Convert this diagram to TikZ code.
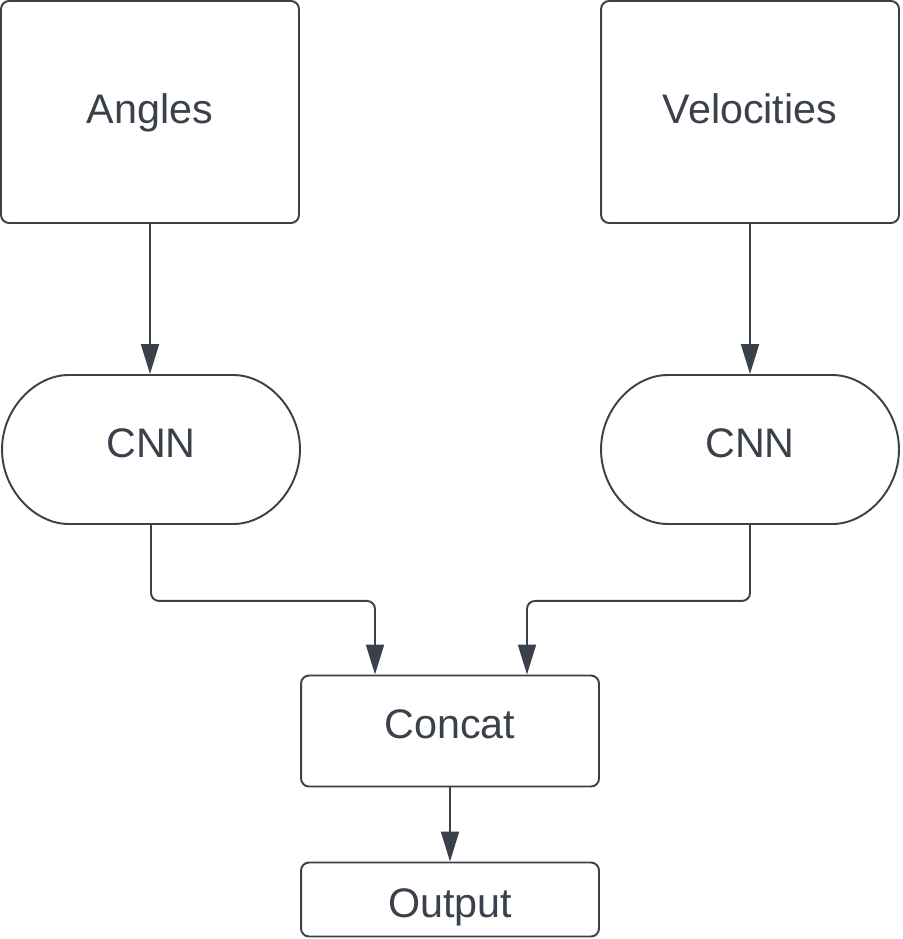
\documentclass[tikz,border=0pt]{standalone}
\usepackage{fontspec}
\setmainfont{Liberation Sans}
\usepackage{tikz}
\usetikzlibrary{arrows.meta}
\usetikzlibrary{shapes.misc}
\definecolor{ink}{HTML}{3A414A}

\begin{document}
\begin{tikzpicture}[x=0.02cm,y=-0.02cm,
    box/.style={draw=ink,line width=1.1pt,rounded corners=0.16cm,text=ink,
      font=\fontsize{23.5}{28}\selectfont,minimum width=5.96cm,inner sep=0pt,
      text height=17pt,text depth=7.4pt},
    pill/.style={box,rounded rectangle,minimum height=2.98cm},
    link/.style={draw=ink,line width=1.1pt,rounded corners=0.16cm,
      -{Triangle[length=0.6cm,width=0.36cm]}}]
    \useasboundingbox (0,0) rectangle (902,939);
    % inputs
    \node[box,minimum height=4.44cm,text depth=3.4pt] (angles) at (150,112) {Angles};
    \node[box,minimum height=4.44cm,text depth=3.4pt] (vel) at (750,112) {Velocities};
    % encoders
    \node[pill] (cnnA) at (151,449.5) {CNN};
    \node[pill] (cnnV) at (750,449.5) {CNN};
    % merge
    \node[box,minimum height=2.22cm,text depth=9pt] (cat) at (450,731) {Concat};
    \node[box,minimum height=1.48cm,text height=24pt,text depth=4pt] (out) at (450,899.5) {Output};
    \draw[link] (angles.south) -- (angles.south |- cnnA.north);
    \draw[link] (vel.south) -- (cnnV.north);
    \draw[link] (cnnA.south) -- ++(0,76) -| ([xshift=-1.5cm]cat.north);
    \draw[link] (cnnV.south) -- ++(0,76) -| ([xshift=1.54cm]cat.north);
    \draw[link] (cat.south) -- (out.north);
\end{tikzpicture}
\end{document}
